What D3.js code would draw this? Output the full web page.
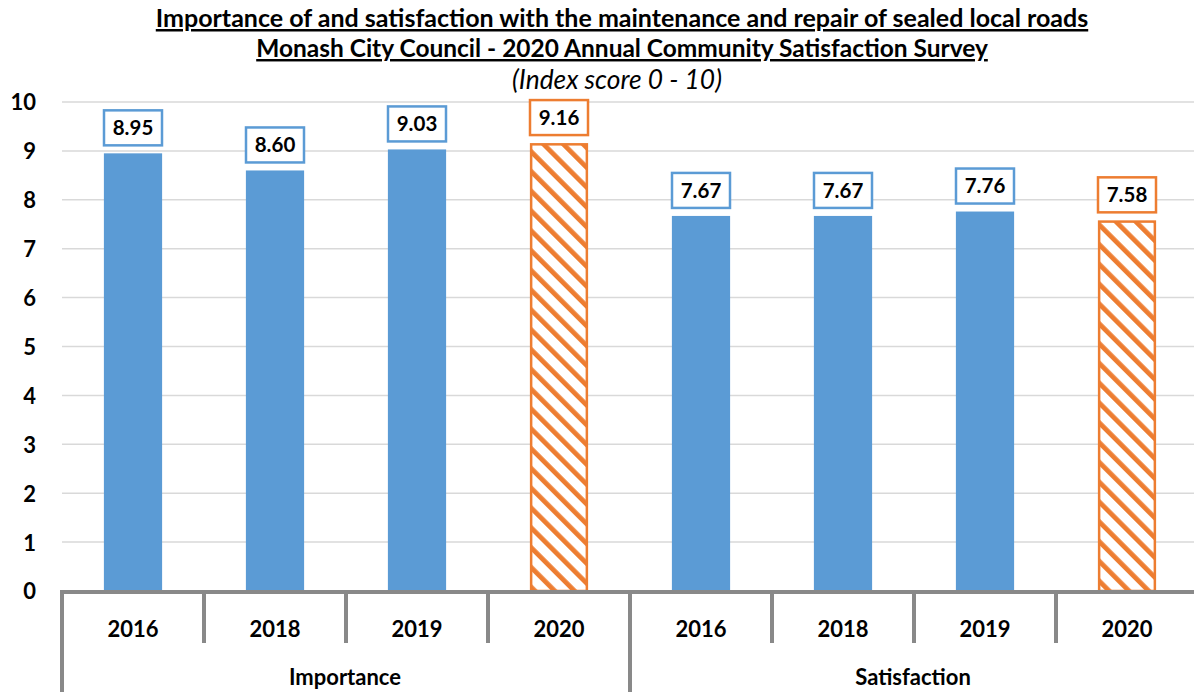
<!DOCTYPE html>
<html><head><meta charset="utf-8">
<script src="https://cdn.jsdelivr.net/npm/d3@7"></script>
<style>html,body{margin:0;padding:0;background:#fff;}svg{display:block;}</style>
</head><body>
<svg id="chart" width="1194" height="692"></svg>
<script>
const groups = ["Importance", "Satisfaction"];
const years = ["2016", "2018", "2019", "2020"];
const importance = [8.95, 8.60, 9.03, 9.16];
const satisfaction = [7.67, 7.67, 7.76, 7.58];
const yTicks = [0,1,2,3,4,5,6,7,8,9,10];
const titleLines = ["Importance of and satisfaction with the maintenance and repair of sealed local roads",
  "Monash City Council - 2020 Annual Community Satisfaction Survey"];
const subtitle = "(Index score 0 - 10)";

(function () {
const BLUE = "#5B9BD5", ORANGE = "#ED7D31", AXIS = "#898989", GRID = "#D9D9D9";
const FONT = "Lato, 'Open Sans', sans-serif";

const rows = [];
groups.forEach((g, gi) => years.forEach((yr, i) => rows.push({
  key: g + "|" + yr, group: g, year: yr,
  value: (gi === 0 ? importance : satisfaction)[i],
  current: yr === "2020"
})));

const svg = d3.select("#chart");
const pLeft = 62, pRight = 1198, pTop = 102, pBottom = 591;
const x = d3.scaleBand().domain(rows.map(d => d.key)).range([pLeft, pRight]).padding(0);
const xg = d3.scaleBand().domain(groups).range([pLeft, pRight]).padding(0);
const y = d3.scaleLinear().domain([0, 10]).range([pBottom, pTop]);
const barW = x.bandwidth() * 0.41;

// hatch pattern
const defs = svg.append("defs");
const pat = defs.append("pattern").attr("id", "hatch").attr("patternUnits", "userSpaceOnUse")
  .attr("width", 14).attr("height", 14).attr("patternTransform", "rotate(-45)");
pat.append("rect").attr("width", 14).attr("height", 14).attr("fill", "#fff");
pat.append("rect").attr("x", 0).attr("width", 4.8).attr("height", 14).attr("fill", ORANGE);

// titles
function fitText(sel, target) {
  const w = sel.node().getComputedTextLength();
  const fs = parseFloat(sel.attr("font-size"));
  if (w > 0) sel.attr("font-size", fs * target / w);
}
const cx = 622;
const t1 = svg.append("text").attr("x", cx).attr("y", 27).attr("text-anchor", "middle")
  .attr("font-family", FONT).attr("font-weight", "bold").attr("font-size", 21)
  .attr("text-decoration", "underline").attr("fill", "#000").text(titleLines[0]);
fitText(t1, 933);
const t2 = svg.append("text").attr("x", cx).attr("y", 57).attr("text-anchor", "middle")
  .attr("font-family", FONT).attr("font-weight", "bold").attr("font-size", 21)
  .attr("text-decoration", "underline").attr("fill", "#000").text(titleLines[1]);
fitText(t2, 732);
const t3 = svg.append("text").attr("x", 617).attr("y", 89).attr("text-anchor", "middle")
  .attr("font-family", FONT).attr("font-style", "italic").attr("font-size", 21)
  .attr("fill", "#000").text(subtitle);
fitText(t3, 210);

// gridlines
svg.append("g").selectAll("line").data(yTicks.filter(d => d > 0)).join("line")
  .attr("x1", pLeft).attr("x2", 1194).attr("y1", d => y(d)).attr("y2", d => y(d))
  .attr("stroke", GRID).attr("stroke-width", 1.5);

// y axis labels
const yAxis = d3.axisLeft(y).tickValues(yTicks).tickSize(0).tickPadding(0).tickFormat(d3.format("d"));
const ya = svg.append("g").attr("transform", "translate(36,0)").call(yAxis);
ya.select(".domain").remove();
ya.selectAll("text").attr("font-family", FONT).attr("font-weight", "bold").attr("font-size", 22)
  .attr("fill", "#000").attr("dy", "0.36em");

// bars
svg.append("g").selectAll("rect").data(rows).join("rect")
  .attr("x", d => x(d.key) + (x.bandwidth() - barW) / 2 + (d.current ? 1.25 : 0))
  .attr("width", d => barW - (d.current ? 2.5 : 0))
  .attr("y", d => y(d.value) + (d.current ? 1.25 : 0))
  .attr("height", d => y(0) - y(d.value) - (d.current ? 1.25 : 0))
  .attr("fill", d => d.current ? "url(#hatch)" : BLUE)
  .attr("stroke", d => d.current ? ORANGE : "none")
  .attr("stroke-width", 2.5);

// value labels
const lab = svg.append("g").selectAll("g").data(rows).join("g")
  .attr("transform", d => `translate(${x(d.key) + x.bandwidth() / 2},${y(d.value) - 7})`);
lab.append("rect").attr("x", -29).attr("y", -36).attr("width", 58).attr("height", 35)
  .attr("fill", "#fff").attr("stroke", d => d.current ? ORANGE : BLUE).attr("stroke-width", 2.5);
lab.append("text").attr("text-anchor", "middle").attr("y", -18.5).attr("dy", "0.36em")
  .attr("font-family", FONT).attr("font-weight", "bold").attr("font-size", 20.5).attr("fill", "#000")
  .text(d => d.value.toFixed(2));

// x axis
const ax = svg.append("g");
ax.append("line").attr("x1", pLeft - 2).attr("x2", 1194).attr("y1", pBottom + 1).attr("y2", pBottom + 1)
  .attr("stroke", AXIS).attr("stroke-width", 4);
ax.selectAll("line.tick").data(rows).join("line").attr("class", "tick")
  .attr("x1", d => x(d.key)).attr("x2", d => x(d.key))
  .attr("y1", pBottom).attr("y2", d => d.year === years[0] ? 692 : 643)
  .attr("stroke", AXIS).attr("stroke-width", 4);
ax.selectAll("text.year").data(rows).join("text").attr("class", "year")
  .attr("x", d => x(d.key) + x.bandwidth() / 2).attr("y", 629).attr("dy", "0.36em")
  .attr("text-anchor", "middle").attr("font-family", FONT).attr("font-weight", "bold")
  .attr("font-size", 22).attr("fill", "#000").text(d => d.year);
ax.selectAll("text.group").data(groups).join("text").attr("class", "group")
  .attr("x", d => xg(d) + xg.bandwidth() / 2 - 1).attr("y", 677).attr("dy", "0.36em")
  .attr("text-anchor", "middle").attr("font-family", FONT).attr("font-weight", "bold")
  .attr("font-size", 22).attr("fill", "#000").text(d => d);
})();
</script>
</body></html>
